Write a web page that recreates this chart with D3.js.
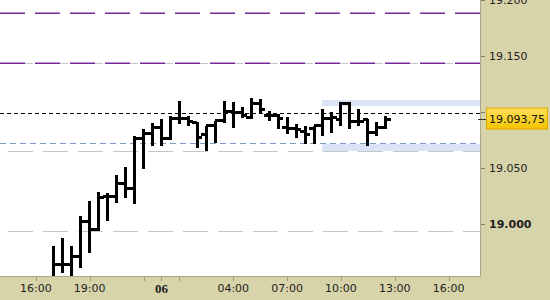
<!DOCTYPE html>
<html><head><meta charset="utf-8">
<script src="https://cdn.jsdelivr.net/npm/d3@7"></script>
<style>html,body{margin:0;padding:0;background:#fff;overflow:hidden}</style>
</head><body><svg id="c" width="550" height="300"></svg>
<script>
// ---- data ----
const times = ["17:00","17:30","18:00","18:30","19:00","19:30","20:00","20:30","21:00","21:30",
  "23:00","23:30","00:00","00:30","01:00","01:30","02:00","02:30","03:00","03:30","04:00","04:30",
  "05:00","05:30","06:00","06:30","07:00","07:30","08:00","08:30","09:00","09:30","10:00","10:30",
  "11:00","11:30","12:00","12:30"];
const opens  = [18952.2,18963.8,18963.8,18970.9,19002.1,18995.8,19024.4,19024.4,19036.8,19031.5,
  19076.9,19080.5,19086.7,19076.9,19094.7,19093.9,19090.3,19079.6,19088.5,19092.1,19100.1,19099.2,
  19095.6,19108.1,19097.4,19097.4,19086.7,19085.8,19082.3,19085.8,19088.5,19094.7,19093.0,19108.1,
  19091.2,19093.0,19081.4,19086.7];
const highs  = [18979.8,18986.9,18979.8,19006.5,19019.9,19027.9,19027.0,19043.1,19050.2,19077.8,
  19084.1,19089.4,19093.0,19095.6,19109.0,19095.6,19090.3,19086.7,19091.2,19109.0,19108.1,19103.7,
  19111.7,19110.8,19100.1,19097.4,19094.7,19088.5,19086.7,19086.7,19101.9,19099.2,19108.1,19108.1,
  19101.9,19093.0,19090.3,19095.6];
const lows   = [18946.0,18957.5,18946.0,18962.0,18975.4,18995.0,19003.9,19019.9,19024.4,19019.0,
  19050.2,19070.7,19070.7,19076.0,19090.3,19088.5,19068.9,19066.2,19073.4,19091.2,19086.7,19095.6,
  19094.7,19099.2,19093.0,19085.8,19081.4,19077.8,19072.5,19072.5,19079.6,19082.3,19088.5,19085.8,
  19088.5,19070.7,19079.6,19085.8];
const closes = [18963.8,18963.8,18970.9,19002.1,18995.8,19023.5,19024.4,19036.8,19031.5,19076.9,
  19080.5,19086.7,19076.9,19094.7,19093.9,19091.2,19077.8,19088.5,19092.1,19100.1,19099.2,19097.4,
  19108.1,19101.9,19097.4,19094.7,19085.8,19084.1,19079.6,19088.5,19094.7,19095.6,19108.1,19091.2,
  19091.2,19081.4,19086.7,19093.75];

const xTickPos    = [-2, 4, 12, 20, 26, 32, 38, 44];
const xTickLabels = ["16:00","19:00","06","04:00","07:00","10:00","13:00","16:00"];
const xMinorTicks = [10, 14];
const yTickValues = [19200, 19150, 19100, 19050, 19000];
const yTickLabels = ["19.200","19.150","19.100","19.050","19.000"];
const lastPrice = 19093.75;
const lastPriceLabel = "19.093,75";
const purpleLevels = [19188.0, 19143.5];
const greyLevels = [19143.5, 19065.3, 18994.1];
const blueLevel = 19072.5;
const blackLevel = 19098.9;
const bandLevels = [[19105.4, 19110.8], [19065.3, 19071.6]];
const bandStart = 29.9;

// ---- layout ----
const W = 550, H = 300, PW = 480, PH = 276;
const svg = d3.select("#c");
const x = d3.scaleLinear().domain([-6, 47.5]).range([0, PW]);
const y = d3.scaleLinear().domain([19199.88, 18953.96]).range([0, PH]);

const bars = opens.map((o, i) => ({i, t: times[i], o, h: highs[i], l: lows[i], c: closes[i]}));

// axis panels
const panel = "#d7d4a9";
svg.append("rect").attr("x", PW).attr("y", 0).attr("width", W - PW).attr("height", H).attr("fill", panel);
svg.append("rect").attr("x", 0).attr("y", PH).attr("width", PW).attr("height", H - PH).attr("fill", panel);

svg.append("defs").append("clipPath").attr("id", "clip")
  .append("rect").attr("x", 0).attr("y", 0).attr("width", PW).attr("height", PH);
const plot = svg.append("g").attr("clip-path", "url(#clip)");
plot.append("rect").attr("width", PW).attr("height", PH).attr("fill", "#fff");

// bands
plot.selectAll("rect.band").data(bandLevels).join("rect").attr("class", "band")
  .attr("x", x(bandStart)).attr("width", PW - x(bandStart))
  .attr("y", d => y(d[1])).attr("height", d => y(d[0]) - y(d[1]))
  .attr("fill", "#dbe4f7");

// grey dashed levels
plot.selectAll("line.grey").data(greyLevels).join("line").attr("class", "grey")
  .attr("x1", 0).attr("x2", PW).attr("y1", d => Math.round(y(d)) + 0.5).attr("y2", d => Math.round(y(d)) + 0.5)
  .attr("stroke", "#c6c6c6").attr("stroke-width", 1.2)
  .attr("stroke-dasharray", "25,10").attr("stroke-dashoffset", 27);

// purple dashed
plot.selectAll("line.purple").data(purpleLevels).join("line").attr("class", "purple")
  .attr("x1", 0).attr("x2", PW).attr("y1", d => y(d)).attr("y2", d => y(d))
  .attr("stroke", "#76299a").attr("stroke-width", 1.5).attr("stroke-dasharray", "25,10");

// blue dashed
plot.append("line").attr("x1", 0).attr("x2", PW)
  .attr("y1", Math.round(y(blueLevel)) + 0.5).attr("y2", Math.round(y(blueLevel)) + 0.5)
  .attr("stroke", "#7f9cc6").attr("stroke-width", 1).attr("stroke-dasharray", "6,4");

// black dashed
plot.append("line").attr("x1", 0).attr("x2", PW)
  .attr("y1", Math.round(y(blackLevel)) + 0.5).attr("y2", Math.round(y(blackLevel)) + 0.5)
  .attr("stroke", "#000").attr("stroke-width", 1).attr("stroke-dasharray", "4,3");

// OHLC bars
const g = plot.append("g").attr("stroke", "#000").attr("stroke-width", 3).attr("shape-rendering", "crispEdges");
const bg = g.selectAll("g").data(bars).join("g");
bg.append("line").attr("x1", d => x(d.i)).attr("x2", d => x(d.i))
  .attr("y1", d => y(d.h) - 1).attr("y2", d => y(d.l) + 1);
bg.append("line").attr("x1", d => x(d.i) - 5).attr("x2", d => x(d.i))
  .attr("y1", d => y(d.o)).attr("y2", d => y(d.o));
bg.append("line").attr("x1", d => x(d.i)).attr("x2", d => x(d.i) + 5)
  .attr("y1", d => y(d.c)).attr("y2", d => y(d.c));

// borders
svg.append("line").attr("x1", PW + 0.5).attr("x2", PW + 0.5).attr("y1", 0).attr("y2", PH + 0.5)
  .attr("stroke", "#aaa78c");
svg.append("line").attr("x1", 0).attr("x2", PW + 0.5).attr("y1", PH + 0.5).attr("y2", PH + 0.5)
  .attr("stroke", "#aaa78c");

// y axis
const yAxis = svg.append("g").attr("font-family", "DejaVu Sans, Verdana, sans-serif").attr("font-size", 11);
yTickValues.forEach((v, k) => {
  const yy = Math.round(y(v)) + 0.5;
  yAxis.append("line").attr("x1", PW + 1).attr("x2", PW + 5).attr("y1", yy).attr("y2", yy).attr("stroke", "#7d7b66");
  yAxis.append("text").attr("x", PW + 9).attr("y", y(v)).attr("dy", "0.36em")
    .attr("fill", "#222").attr("font-weight", v === 19000 ? "bold" : "normal").text(yTickLabels[k]);
});

// last price box
const ly = y(lastPrice);
const grad = svg.select("defs").append("linearGradient").attr("id", "yg").attr("x1", 0).attr("x2", 0).attr("y1", 0).attr("y2", 1);
grad.append("stop").attr("offset", "0%").attr("stop-color", "#ffe15a");
grad.append("stop").attr("offset", "100%").attr("stop-color", "#f4c300");
svg.append("line").attr("x1", PW - 2).attr("x2", PW + 6).attr("y1", Math.round(ly) + 0.5).attr("y2", Math.round(ly) + 0.5)
  .attr("stroke", "#333");
svg.append("rect").attr("x", 486.5).attr("y", ly - 11).attr("width", 61).attr("height", 21)
  .attr("fill", "url(#yg)").attr("stroke", "#e0a800").attr("stroke-width", 1);
svg.append("text").attr("x", 489).attr("y", ly).attr("dy", "0.36em")
  .attr("font-family", "DejaVu Sans, Verdana, sans-serif").attr("font-size", 11).attr("fill", "#111")
  .text(lastPriceLabel);

// x axis
const xAxis = svg.append("g");
xTickPos.concat(xMinorTicks).forEach(p => {
  const xx = Math.round(x(p)) + 0.5;
  xAxis.append("line").attr("x1", xx).attr("x2", xx).attr("y1", PH + 1).attr("y2", PH + 5).attr("stroke", "#9e9c80");
});
xTickPos.forEach((p, k) => {
  const bold = xTickLabels[k] === "06";
  xAxis.append("text").attr("x", x(p)).attr("y", 288).attr("dy", "0.36em").attr("text-anchor", "middle")
    .attr("font-family", bold ? "Liberation Serif, serif" : "DejaVu Sans, Verdana, sans-serif")
    .attr("font-size", bold ? 13 : 11).attr("font-weight", bold ? "bold" : "normal")
    .attr("fill", "#222").text(xTickLabels[k]);
});
</script></body></html>
